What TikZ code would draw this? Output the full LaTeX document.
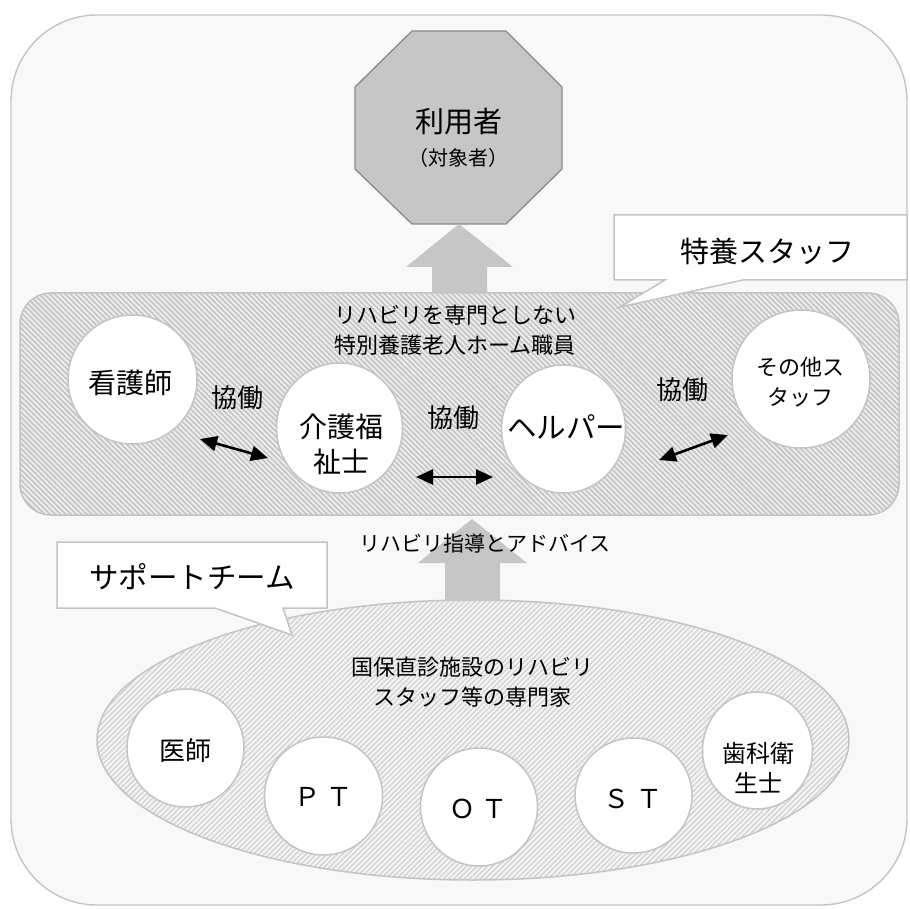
\documentclass[tikz,border=0pt]{standalone}
\usepackage{fontspec}
\newfontfamily\jp{Noto Sans CJK JP}
\usetikzlibrary{arrows.meta,patterns.meta,shapes.geometric,calc}
\definecolor{bgcol}{HTML}{F8F8F8}
\definecolor{bordcol}{HTML}{C4C4C4}
\definecolor{octfill}{HTML}{C6C6C6}
\definecolor{octline}{HTML}{8A8A8A}
\definecolor{blockcol}{HTML}{C6C6C6}
\definecolor{hatchbgA}{HTML}{EDEDED}
\definecolor{hatchfgA}{HTML}{C4C4C4}
\definecolor{hatchbgB}{HTML}{F3F3F3}
\definecolor{hatchfgB}{HTML}{D0D0D0}
\newcommand{\fs}[2]{\fontsize{#1}{#2}\selectfont}
\begin{document}
\begin{tikzpicture}[x=1pt,y=-1pt,
  jptext/.style 2 args={font={\jp\fs{#1}{#2}}, text=black, inner sep=0pt, align=center},
  outerbox/.style={fill=bgcol, draw=bordcol, line width=1.4pt, rounded corners=86pt},
  panelbox/.style={rectangle, draw=bordcol, line width=1.5pt, rounded corners=31pt,
    preaction={fill=hatchbgA},
    pattern={Lines[angle=-45,distance=3.7pt,line width=1.6pt]}, pattern color=hatchfgA},
  teambox/.style={ellipse, draw=bordcol, line width=1.5pt,
    preaction={fill=hatchbgB},
    pattern={Lines[angle=45,distance=3.7pt,line width=1.2pt]}, pattern color=hatchfgB},
  member/.style={ellipse, fill=white, draw=bordcol, line width=1.5pt, inner sep=0pt},
  calloutbox/.style={fill=white, draw=bordcol, line width=1.5pt},
  blockarrow/.style={fill=blockcol, draw=none},
  coop/.style={black, line width=2.6pt, {Triangle[length=17pt,width=15pt]}-{Triangle[length=17pt,width=15pt]}}
]
\useasboundingbox (0,0) rectangle (910,909);

% outer frame
\draw[outerbox] (11,15) rectangle (907,905);

% octagon (user)
\draw[fill=octfill, draw=octline, line width=1.3pt]
  (412,31) -- (506,31) -- (562,87) -- (562,169) -- (506,224) -- (412,224) -- (355,169) -- (355,87) -- cycle;
\node[jptext={29}{34}] (user) at (458.5,122) {利用者};
\node[jptext={20}{24}] (usersub) at (458.5,158) {（対象者）};

% block arrow 1 (panel -> user)
\draw[blockarrow] (459,224) -- (513,267) -- (487,267) -- (487,294) -- (432,294) -- (432,267) -- (406,267) -- cycle;

% staff panel
\node[panelbox, minimum width=879pt, minimum height=222pt] (panel) at (459.5,404) {};
\node[jptext={22}{30}] (paneltitle) at (455,330) {リハビリを専門としない\\特別養護老人ホーム職員};

% callout 特養スタッフ
\draw[calloutbox] (614,215) -- (907,215) -- (907,280) -- (743,280) -- (620,307) -- (665,280) -- (614,280) -- cycle;
\node[jptext={29}{34}] (tokuyo) at (767,251) {特養スタッフ};

% staff members
\node[member, minimum width=129pt, minimum height=129pt] (kango) at (132.5,379.5) {};
\node[jptext={28}{34}] (kangot) at (130,383) {看護師};
\node[member, minimum width=126pt, minimum height=130pt] (kaigo) at (339.5,428) {};
\node[jptext={28}{35}] (kaigot) at (341,444.5) {介護福\\祉士};
\node[member, minimum width=124pt, minimum height=128pt] (helper) at (563.5,429) {};
\node[jptext={29.5}{34}] (helpert) at (566,427) {ヘルパー};
\node[member, minimum width=138pt, minimum height=138pt] (other) at (801,379) {};
\node[jptext={22}{30}] (othert) at (800,382) {その他ス\\タッフ};

% 協働 labels
\node[jptext={26}{30}] (k1) at (237,398) {協働};
\node[jptext={26}{30}] (k2) at (453,418) {協働};
\node[jptext={26}{30}] (k3) at (682,390) {協働};

% cooperation arrows
\coordinate (a1s) at (200,439);
\coordinate (a1e) at (268,458);
\coordinate (a2s) at (416,477);
\coordinate (a2e) at (493,477);
\coordinate (a3s) at (659,460);
\coordinate (a3e) at (728,435);
\draw[coop] (a1s) -- (a1e);
\draw[coop] (a2s) -- (a2e);
\draw[coop] (a3s) -- (a3e);

% support team ellipse
\node[teambox, minimum width=752pt, minimum height=280pt] (team) at (473,740) {};
\node[jptext={22}{30}] (teamtitle) at (472,682) {国保直診施設のリハビリ\\スタッフ等の専門家};

% block arrow 2 (team -> panel)
\draw[blockarrow] (472,519) -- (527,563) -- (500,563) -- (500,601) -- (445,601) -- (445,563) -- (418,563) -- cycle;
\node[jptext={21}{26}] (advice) at (485,543) {リハビリ指導とアドバイス};

% callout サポートチーム
\draw[calloutbox] (57,542) -- (327,542) -- (327,608) -- (283,608) -- (292,635) -- (215,608) -- (57,608) -- cycle;
\node[jptext={29.5}{34}] (support) at (192,577) {サポートチーム};

% team members
\node[member, minimum width=117pt, minimum height=118pt] (ishi) at (185.5,748) {};
\node[jptext={26}{30}] (ishit) at (185,751) {医師};
\node[member, minimum width=118pt, minimum height=118pt] (pt) at (323.5,796) {};
\node[jptext={26}{30}] (ptt) at (323.5,797) {Ｐ\hspace{7pt}Ｔ};
\node[member, minimum width=117pt, minimum height=118pt] (ot) at (479,807) {};
\node[jptext={26}{30}] (ott) at (478.5,809) {Ｏ\hspace{6pt}Ｔ};
\node[member, minimum width=117pt, minimum height=115pt] (st) at (633.5,795.5) {};
\node[jptext={26}{30}] (stt) at (633,799) {Ｓ\hspace{8pt}Ｔ};
\node[member, minimum width=110pt, minimum height=117pt] (shika) at (757.5,750.5) {};
\node[jptext={24}{30}] (shikat) at (758,768) {歯科衛\\生士};
\end{tikzpicture}
\end{document}
